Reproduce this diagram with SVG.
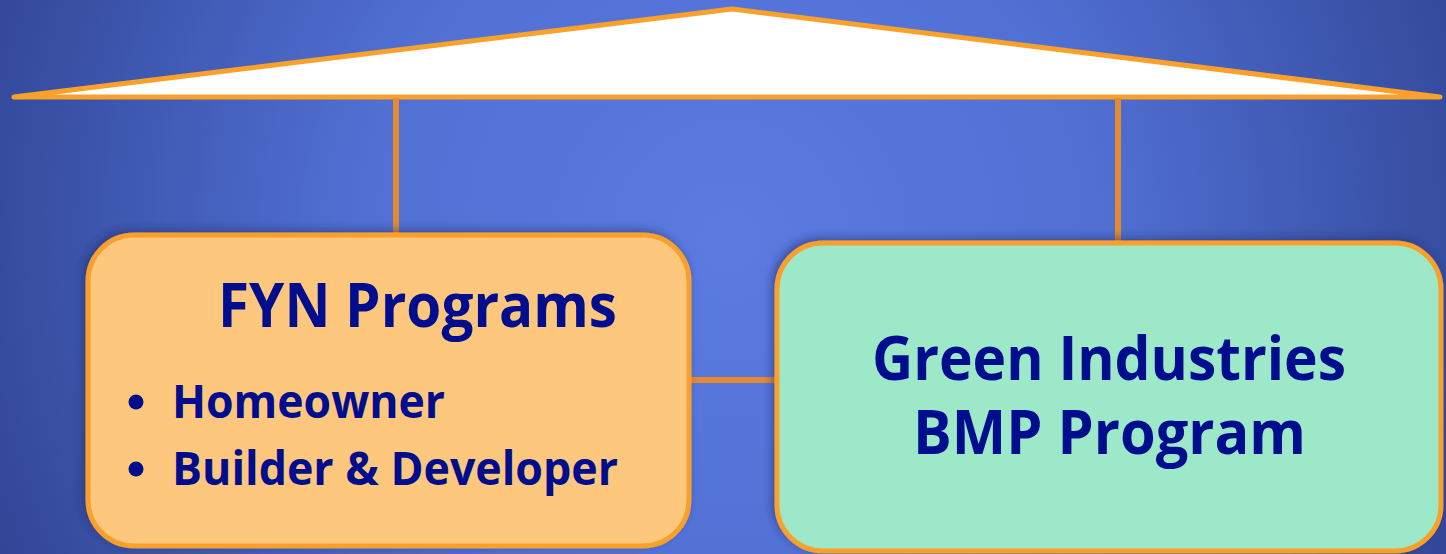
<svg xmlns="http://www.w3.org/2000/svg" width="1446" height="554" viewBox="0 0 1446 554">
<defs>
<radialGradient id="bg" cx="730" cy="240" r="820" gradientUnits="userSpaceOnUse">
<stop offset="0" stop-color="#5C7BE2"/>
<stop offset="0.45" stop-color="#5170D4"/>
<stop offset="1" stop-color="#2F4392"/>
</radialGradient>
<filter id="sh" x="-10%" y="-10%" width="120%" height="120%">
<feDropShadow dx="-3" dy="-3" stdDeviation="4" flood-color="#1A2660" flood-opacity="0.5"/>
</filter>
<style>
.conn{stroke:#E38B34;stroke-width:6;fill:none}
.box{stroke:#F9A02A;stroke-width:5}
.t{font-family:"Open Sans","Liberation Sans",sans-serif;font-weight:bold;fill:#000E8E}
.big{font-size:60px}
.sm{font-size:46px}
</style>
</defs>
<rect width="1446" height="554" fill="url(#bg)"/>
<g id="roof">
<polygon points="14,97 732,9 1440,97" fill="#FFFFFF" stroke="#F9A12A" stroke-width="5" stroke-linejoin="round"/>
</g>
<g id="connectors">
<line class="conn" x1="396" y1="98" x2="396" y2="234"/>
<line class="conn" x1="1118" y1="98" x2="1118" y2="242"/>
<line class="conn" x1="690" y1="380" x2="777" y2="380"/>
</g>
<g id="fyn">
<rect class="box" x="88" y="235" width="601" height="311" rx="46" fill="#FDC77E" filter="url(#sh)"/>
<text class="t big" x="218" y="327" textLength="399" lengthAdjust="spacingAndGlyphs">FYN Programs</text>
<circle cx="136" cy="402" r="7.5" fill="#000E8E"/>
<text class="t sm" x="172" y="418" textLength="273" lengthAdjust="spacingAndGlyphs">Homeowner</text>
<circle cx="136" cy="469" r="7.5" fill="#000E8E"/>
<text class="t sm" x="172" y="485" textLength="446" lengthAdjust="spacingAndGlyphs">Builder &amp; Developer</text>
</g>
<g id="gi">
<rect class="box" x="777" y="243" width="664" height="308" rx="46" fill="#9DE8C9" filter="url(#sh)"/>
<text class="t big" x="872" y="380" textLength="474" lengthAdjust="spacingAndGlyphs">Green Industries</text>
<text class="t big" x="913" y="454" textLength="393" lengthAdjust="spacingAndGlyphs">BMP Program</text>
</g>
</svg>
